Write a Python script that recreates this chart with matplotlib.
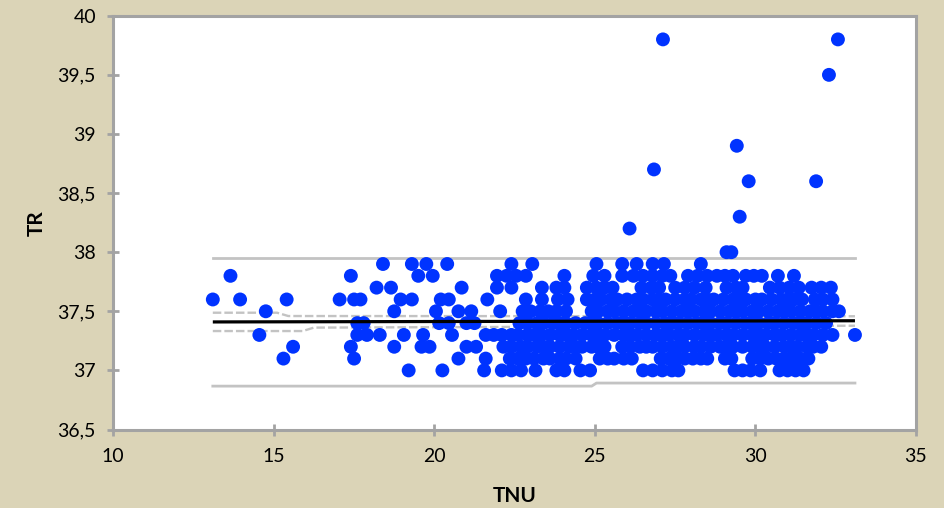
import numpy as np
import matplotlib
matplotlib.use("Agg")
from matplotlib import pyplot as plt

# ── Data: TNU values for each TR level (TR read in 0.1 steps) ────────────────
tnu_tr_379 = [18.4, 19.3, 19.75, 20.4, 22.4, 23.05, 25.05, 25.85, 26.3, 26.8, 27.15, 28.3]
tnu_tr_378 = [13.65, 17.4, 19.5, 19.95, 21.95, 22.25, 22.55, 22.85, 24.05, 24.95, 25.3,
              25.85, 26.2, 26.5, 26.8, 27.1, 27.35, 27.9, 28.2, 28.5, 28.8, 29.05, 29.3,
              29.7, 29.95, 30.2, 30.7, 31.2]
tnu_tr_377 = [18.2, 18.65, 20.85, 21.95, 22.4, 23.35, 23.8, 24.05, 24.75, 25.05, 25.3,
              25.55, 26.45, 26.75, 27.0, 27.5, 27.8, 28.1, 28.45, 29.1, 29.4, 29.6, 30.45,
              30.75, 31.05, 31.35, 31.75, 32.05, 32.35]
tnu_tr_376 = [13.1, 13.95, 15.4, 17.05, 17.5, 17.7, 18.95, 19.3, 20.2, 20.45, 21.65, 22.85,
              23.35, 23.85, 24.15, 24.75, 25.0, 25.2, 25.5, 25.7, 26.0, 26.3, 26.5, 26.8,
              27.0, 27.2, 27.5, 27.8, 28.0, 28.3, 28.5, 28.7, 29.0, 29.3, 29.5, 29.7, 30.0,
              30.2, 30.5, 30.8, 31.0, 31.2, 31.45, 31.85, 32.1, 32.4]
tnu_tr_375 = [14.75, 18.75, 20.05, 20.75, 21.15, 22.05, 22.75, 23.0, 23.3, 23.55, 23.8, 24.1,
              24.9, 25.1, 25.4, 25.6, 25.9, 26.2, 26.4, 26.6, 26.9, 27.1, 27.4, 27.7, 27.9,
              28.1, 28.4, 28.6, 28.9, 29.2, 29.4, 29.6, 29.9, 30.1, 30.4, 30.7, 30.9, 31.1,
              31.4, 31.7, 31.9, 32.1, 32.4, 32.6]
tnu_tr_374 = [17.6, 17.8, 20.15, 20.45, 21.0, 21.25, 22.65, 22.9, 23.2, 23.4, 23.7, 23.9,
              24.1, 24.4, 24.7, 24.9, 25.1, 25.4, 25.7, 25.9, 26.1, 26.4, 26.6, 26.9, 27.2,
              27.4, 27.6, 27.9, 28.2, 28.4, 28.6, 28.9, 29.1, 29.4, 29.7, 29.9, 30.1, 30.4,
              30.6, 30.9, 31.2, 31.4, 31.6, 31.9, 32.2]
tnu_tr_373 = [14.55, 17.6, 17.9, 18.3, 19.05, 19.65, 20.55, 21.6, 21.85, 22.1, 22.4, 22.6,
              22.9, 23.1, 23.3, 23.6, 23.9, 24.1, 24.3, 24.6, 24.9, 25.1, 25.3, 25.6, 25.9,
              26.1, 26.3, 26.6, 26.9, 27.1, 27.3, 27.6, 27.8, 28.1, 28.4, 28.6, 28.8, 29.1,
              29.3, 29.6, 29.9, 30.1, 30.3, 30.6, 30.8, 31.1, 31.4, 31.6, 31.8, 32.1, 32.4,
              33.1]
tnu_tr_372 = [15.6, 17.4, 18.75, 19.6, 19.85, 21.0, 21.3, 22.15, 22.4, 22.7, 22.9, 23.2,
              23.4, 23.6, 23.9, 24.2, 24.4, 24.6, 24.9, 25.1, 25.3, 25.85, 26.1, 26.4, 26.6,
              26.8, 27.1, 27.4, 27.6, 27.8, 28.1, 28.3, 28.6, 28.9, 29.1, 29.3, 29.6, 29.9,
              30.1, 30.3, 30.6, 30.9, 31.1, 31.3, 31.6, 31.8, 32.05]
tnu_tr_371 = [15.3, 17.5, 20.75, 21.6, 22.35, 22.6, 22.85, 23.1, 23.4, 23.6, 23.9, 24.1,
              24.4, 25.15, 25.4, 25.6, 25.9, 26.15, 27.05, 27.3, 27.55, 27.8, 28.05, 28.3,
              28.5, 29.05, 29.25, 29.9, 30.15, 30.4, 30.65, 30.9, 31.15, 31.4, 31.65]
tnu_tr_370 = [19.2, 20.25, 21.55, 22.1, 22.4, 22.7, 23.15, 23.8, 24.05, 24.55, 24.85, 26.5,
              26.8, 27.1, 27.4, 27.6, 29.35, 29.6, 29.85, 30.15, 30.75, 31.0, 31.25, 31.5]

# outliers above the band
tnu_out = [27.12, 32.57, 32.29, 29.42, 26.84, 29.79, 31.89, 29.51, 26.08, 29.1, 29.25]
tr_out  = [39.8, 39.8, 39.5, 38.9, 38.7, 38.6, 38.6, 38.3, 38.2, 38.0, 38.0]

# regression line and bands
fit_x = [13.1, 33.1]
fit_y = [37.41, 37.42]
upper_outer_x = [13.1, 33.1]
upper_outer_y = [37.955, 37.955]
lower_outer_x = [13.1, 24.9, 25.05, 33.1]
lower_outer_y = [36.867, 36.867, 36.893, 36.893]
upper_inner_x = [13.1, 15.1, 15.45, 33.1]
upper_inner_y = [37.488, 37.488, 37.46, 37.458]
lower_inner_x = [13.1, 15.9, 16.25, 33.1]
lower_inner_y = [37.333, 37.333, 37.362, 37.378]

x_ticks = [10, 15, 20, 25, 30, 35]
y_ticks = [36.5, 37, 37.5, 38, 38.5, 39, 39.5, 40]
y_tick_labels = ['36,5', '37', '37,5', '38', '38,5', '39', '39,5', '40']

# ── Assemble points ──────────────────────────────────────────────────────────
rows = [(37.9, tnu_tr_379), (37.8, tnu_tr_378), (37.7, tnu_tr_377), (37.6, tnu_tr_376),
        (37.5, tnu_tr_375), (37.4, tnu_tr_374), (37.3, tnu_tr_373), (37.2, tnu_tr_372),
        (37.1, tnu_tr_371), (37.0, tnu_tr_370)]
tnu = np.concatenate([np.asarray(v) for _, v in rows] + [np.asarray(tnu_out)])
tr = np.concatenate([np.full(len(v), lvl) for lvl, v in rows] + [np.asarray(tr_out)])

# ── Plot ─────────────────────────────────────────────────────────────────────
plt.rcParams['font.family'] = ['Lato', 'DejaVu Sans']
bg = '#DBD4B7'
edge = '#A3A3A3'
band = '#C3C3C3'

fig = plt.figure(figsize=(9.44, 5.08), dpi=100, facecolor=bg)
ax = fig.add_axes([0.12, 0.1545, 0.8503, 0.8145])
ax.set_facecolor('white')

ax.plot(upper_outer_x, upper_outer_y, color=band, lw=2.0, zorder=1)
ax.plot(lower_outer_x, lower_outer_y, color=band, lw=2.0, zorder=1)
ax.plot(upper_inner_x, upper_inner_y, color=band, lw=1.7, dashes=(3.6, 1.3), zorder=1)
ax.plot(lower_inner_x, lower_inner_y, color=band, lw=1.7, dashes=(3.6, 1.3), zorder=1)

ax.scatter(tnu, tr, s=100, color='#0033FF', edgecolors='none', zorder=2)

ax.plot(fit_x, fit_y, color='black', lw=2.3, zorder=3, solid_capstyle='butt')

ax.set_xlim(10, 35)
ax.set_ylim(36.5, 40)
ax.set_xticks(x_ticks)
ax.set_yticks(y_ticks)
ax.set_yticklabels(y_tick_labels)

for side in ['left', 'bottom', 'right', 'top']:
    ax.spines[side].set_color(edge)
    ax.spines[side].set_linewidth(2.2)

ax.tick_params(axis='both', direction='inout', length=9, width=2, color=edge,
               labelsize=14, labelcolor='black')
ax.tick_params(axis='x', pad=9)
ax.tick_params(axis='y', pad=8)

ax.set_xlabel('TNU', fontsize=15, fontweight='bold', labelpad=15)
ax.set_ylabel('TR', fontsize=15, fontweight='bold', labelpad=8)

fig.savefig('out.png', dpi=100, facecolor=bg)
